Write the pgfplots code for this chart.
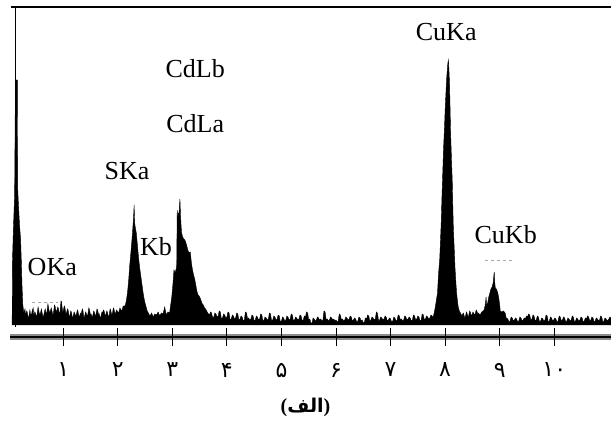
\documentclass[border=0pt]{standalone}
\usepackage{pgfplots}
\pgfplotsset{compat=1.18}
\usepackage{fontspec}
\setmainfont{Liberation Serif}
\newfontfamily\arabicfont[Script=Arabic]{DejaVu Sans}
\TeXXeTstate=1
\begin{document}
\begin{tikzpicture}
\useasboundingbox (0,0) rectangle (611bp,425bp);
\begin{axis}[
  at={(15.5bp,88bp)}, anchor=south west,
  scale only axis, width=595.5bp, height=330bp,
  xmin=0.126, xmax=11.04, ymin=-12, ymax=318,
  axis x line*=bottom, axis y line*=left,
  axis line style={draw=none},
  ytick=\empty,
  xtick={1,2,3,4,5,6,7,8,9,10},
  xticklabels={۱,۲,۳,۴,۵,۶,۷,۸,۹,۱۰},
  xticklabel style={font=\arabicfont\fontsize{22bp}{24bp}\selectfont, anchor=center, yshift=-24bp},
  tick align=center, major tick length=18bp,
  tick style={black, line width=0.8bp},
  axis on top,
  clip=false,
  xlabel={{\bfseries\fontsize{20bp}{22bp}\selectfont(}{\arabicfont\bfseries\fontsize{19bp}{22bp}\selectfont\beginR الف\endR}{\bfseries\fontsize{20bp}{22bp}\selectfont)}},
  xlabel style={at={(axis description cs:0.487,0)}, anchor=center, yshift=-70bp},
]
\addplot[fill=black, draw=black, line width=0.4bp] table {
0.065 0
0.068 60
0.09 100
0.11 130
0.125 245
0.16 245
0.165 138
0.18 120
0.20 100
0.22 85
0.235 60
0.245 40
0.26 20
0.28 12
0.30 16
0.31 9
0.33 14
0.34 13
0.36 7
0.37 8
0.39 15
0.40 11
0.42 10
0.43 14
0.45 17
0.46 9
0.48 13
0.49 12
0.51 8
0.52 10
0.54 18
0.55 15
0.57 10
0.58 11
0.60 16
0.61 13
0.63 8
0.64 9
0.66 14
0.67 16
0.69 11
0.70 12
0.72 21
0.73 18
0.75 12
0.76 13
0.78 17
0.79 15
0.81 10
0.82 11
0.84 20
0.85 19
0.87 13
0.88 14
0.90 18
0.91 17
0.93 11
0.94 12
0.96 24
0.97 23
0.99 13
1.00 14
1.02 19
1.03 18
1.05 11
1.06 12
1.08 16
1.09 15
1.11 8
1.12 9
1.14 14
1.15 13
1.17 7
1.18 8
1.20 13
1.21 12
1.23 9
1.24 10
1.26 15
1.27 14
1.29 8
1.30 9
1.32 12
1.33 11
1.35 16
1.36 15
1.38 7
1.39 8
1.41 13
1.42 12
1.44 9
1.45 10
1.47 17
1.48 16
1.50 10
1.51 11
1.53 8
1.54 9
1.56 14
1.57 13
1.59 9
1.60 10
1.62 16
1.63 15
1.65 10
1.66 11
1.68 7
1.69 8
1.71 13
1.72 12
1.74 15
1.75 14
1.77 9
1.78 10
1.80 14
1.81 13
1.83 8
1.84 9
1.86 16
1.87 15
1.89 10
1.90 11
1.92 17
1.93 16
1.95 11
1.96 12
1.98 15
1.99 14
2.01 12
2.02 13
2.04 17
2.05 16
2.07 14
2.08 15
2.10 19
2.11 18
2.14 20
2.16 25
2.18 33
2.20 45
2.22 60
2.24 72
2.26 85
2.27 92
2.28 100
2.29 108
2.30 120
2.31 102
2.32 98
2.34 92
2.36 80
2.38 68
2.40 58
2.42 50
2.44 42
2.46 34
2.48 27
2.50 22
2.52 18
2.54 14
2.56 12
2.59 9
2.62 12
2.65 8
2.68 11
2.71 10
2.74 13
2.77 9
2.80 12
2.83 11
2.86 18
2.89 10
2.92 13
2.95 12
2.97 20
2.99 28
3.01 40
3.03 55
3.05 52
3.07 56
3.08 58
3.09 115
3.10 100
3.11 112
3.12 108
3.13 118
3.14 126
3.15 110
3.16 100
3.17 92
3.19 88
3.21 86
3.23 85
3.25 82
3.27 78
3.29 74
3.31 72
3.33 73
3.35 62
3.37 55
3.39 50
3.41 46
3.43 40
3.45 34
3.47 30
3.49 29
3.51 27
3.53 24
3.55 21
3.57 20
3.59 17
3.61 16
3.63 14
3.65 12
3.68 10
3.70 13
3.72 12
3.74 7
3.76 8
3.78 12
3.80 11
3.82 8
3.84 9
3.86 14
3.88 13
3.90 6
3.92 7
3.94 11
3.96 10
3.98 7
4.00 8
4.02 13
4.04 12
4.06 5
4.08 6
4.10 10
4.12 9
4.14 6
4.16 7
4.18 12
4.20 11
4.22 5
4.24 6
4.26 9
4.28 8
4.30 4
4.32 5
4.34 13
4.36 12
4.38 6
4.40 7
4.42 5
4.44 6
4.46 10
4.48 9
4.50 4
4.52 5
4.54 9
4.56 8
4.58 5
4.60 6
4.62 11
4.64 10
4.66 4
4.68 5
4.70 8
4.72 7
4.74 5
4.76 6
4.78 12
4.80 11
4.82 4
4.84 5
4.86 9
4.88 8
4.90 5
4.92 6
4.94 10
4.96 9
4.98 3
5.00 4
5.02 8
5.04 7
5.06 4
5.08 5
5.10 9
5.12 8
5.14 5
5.16 6
5.18 11
5.20 10
5.22 4
5.24 5
5.26 8
5.28 7
5.30 5
5.32 6
5.34 10
5.36 9
5.38 4
5.40 5
5.42 9
5.44 8
5.46 13
5.48 12
5.50 5
5.52 6
5.54 2
5.56 2
5.58 7
5.60 6
5.62 4
5.64 5
5.66 8
5.68 7
5.70 5
5.72 6
5.74 4
5.76 5
5.78 14
5.80 13
5.82 5
5.84 6
5.86 4
5.88 5
5.90 8
5.92 7
5.94 5
5.96 6
5.98 4
6.00 5
6.02 3
6.04 4
6.06 11
6.08 10
6.10 5
6.12 6
6.14 4
6.16 5
6.18 8
6.20 7
6.22 5
6.24 6
6.26 9
6.28 8
6.30 4
6.32 5
6.34 7
6.36 6
6.38 3
6.40 4
6.42 8
6.44 7
6.46 4
6.48 5
6.50 2
6.52 3
6.54 7
6.56 6
6.58 10
6.60 9
6.62 4
6.64 5
6.66 8
6.68 7
6.70 5
6.72 6
6.74 13
6.76 12
6.78 4
6.80 5
6.82 8
6.84 7
6.86 5
6.88 6
6.90 9
6.92 8
6.94 4
6.96 5
6.98 7
7.00 6
7.02 3
7.04 4
7.06 8
7.08 7
7.10 4
7.12 5
7.14 10
7.16 9
7.18 5
7.20 6
7.22 4
7.24 5
7.26 9
7.28 8
7.30 5
7.32 6
7.34 8
7.36 7
7.38 4
7.40 5
7.42 10
7.44 9
7.46 5
7.48 6
7.50 9
7.52 8
7.54 4
7.56 5
7.58 11
7.60 10
7.62 5
7.64 6
7.66 9
7.68 8
7.70 6
7.72 7
7.74 10
7.76 9
7.78 8
7.80 12
7.82 18
7.84 25
7.86 32
7.88 52
7.90 65
7.91 78
7.93 105
7.94 125
7.96 158
7.97 175
7.99 200
8.00 215
8.02 238
8.03 248
8.05 262
8.06 265
8.07 255
8.08 242
8.09 218
8.10 192
8.12 160
8.13 145
8.14 120
8.15 98
8.17 72
8.18 58
8.20 40
8.21 32
8.23 22
8.24 18
8.26 14
8.28 12
8.31 9
8.33 12
8.34 11
8.36 7
8.37 8
8.39 13
8.40 12
8.42 8
8.43 9
8.45 14
8.46 13
8.48 9
8.49 10
8.51 13
8.52 12
8.54 10
8.55 11
8.57 15
8.58 14
8.60 11
8.61 12
8.64 10
8.67 13
8.70 14
8.72 16
8.74 22
8.75 28
8.76 20
8.78 22
8.80 28
8.82 32
8.84 36
8.86 38
8.88 42
8.89 48
8.90 53
8.91 42
8.92 37
8.94 36
8.96 33
8.98 28
9.00 20
9.01 14
9.04 13
9.07 14
9.10 12
9.12 7
9.15 6
9.17 3
9.19 4
9.21 8
9.23 7
9.25 4
9.27 5
9.29 7
9.31 6
9.33 3
9.35 4
9.37 8
9.39 7
9.41 4
9.43 5
9.45 7
9.47 6
9.49 9
9.51 8
9.53 11
9.55 10
9.57 5
9.59 6
9.61 10
9.63 9
9.65 4
9.67 5
9.69 9
9.71 8
9.73 3
9.75 4
9.77 7
9.79 6
9.81 4
9.83 5
9.85 10
9.87 9
9.89 3
9.91 4
9.93 8
9.95 7
9.97 4
9.99 5
10.01 7
10.03 6
10.05 3
10.07 4
10.09 9
10.11 8
10.13 4
10.15 5
10.17 8
10.19 7
10.21 3
10.23 4
10.25 7
10.27 6
10.29 4
10.31 5
10.33 9
10.35 8
10.37 3
10.39 4
10.41 7
10.43 6
10.45 4
10.47 5
10.49 8
10.51 7
10.53 3
10.55 4
10.57 7
10.59 6
10.61 9
10.63 8
10.65 4
10.67 5
10.69 8
10.71 7
10.73 3
10.75 4
10.77 7
10.79 6
10.81 4
10.83 5
10.85 9
10.87 8
10.89 3
10.91 4
10.93 7
10.95 6
10.97 4
10.99 5
11.02 8
11.04 7
} \closedcycle;
% frame lines
\draw[black, line width=2.3bp] (axis cs:0.043,318) -- (axis cs:11.04,318);
\draw[black, line width=1bp] (axis cs:0.126,318) -- (axis cs:0.126,-2);
\draw[black!45, line width=5.5bp] (axis cs:0.03,-12) -- (axis cs:11.04,-12);
\draw[black, line width=1.6bp] (axis cs:0.03,-12) -- (axis cs:11.04,-12);
% faint remnants
\draw[black!35, dash pattern=on 3bp off 3bp, line width=0.8bp] (axis cs:0.43,23) -- (axis cs:0.90,23);
\draw[black!35, dash pattern=on 3bp off 3bp, line width=0.8bp] (axis cs:8.73,65) -- (axis cs:9.28,65);
% peak labels
\begin{scope}[every node/.style={anchor=base, inner sep=0pt, font=\fontsize{26bp}{28bp}\selectfont}]
\node at (axis cs:8.02,285) {CuKa};
\node at (axis cs:3.42,248) {CdLb};
\node at (axis cs:3.42,193) {CdLa};
\node at (axis cs:2.17,146) {SKa};
\node at (axis cs:2.70,70) {Kb};
\node at (axis cs:9.11,82) {CuKb};
\node at (axis cs:0.80,50) {OKa};
\end{scope}
\end{axis}
\end{tikzpicture}
\end{document}
